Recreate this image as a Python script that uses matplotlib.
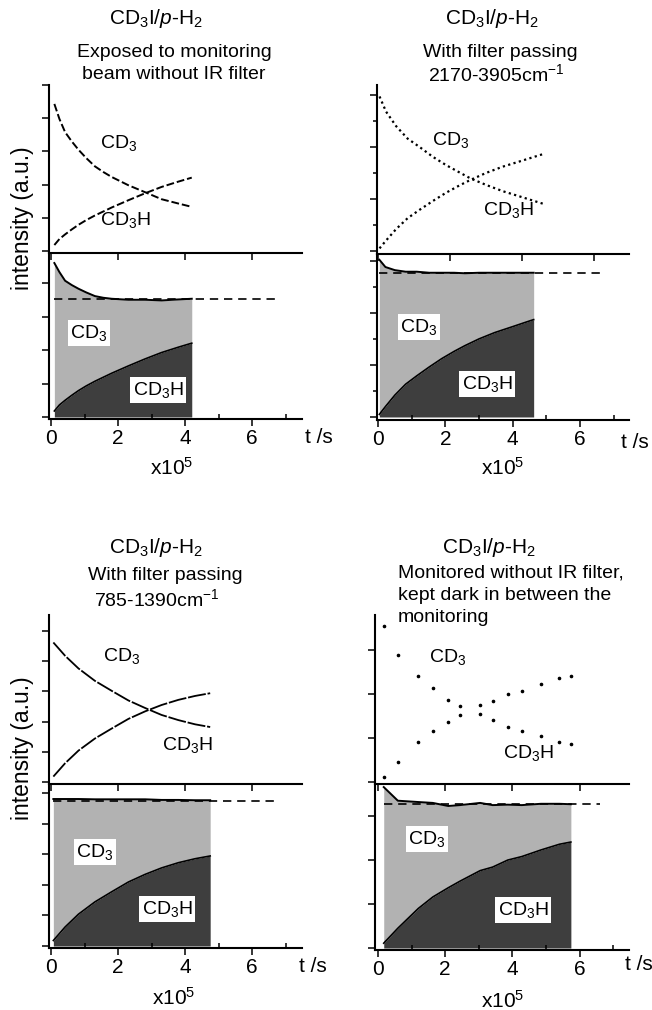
import matplotlib
matplotlib.use('Agg')
import matplotlib.pyplot as plt
from matplotlib.ticker import MultipleLocator

plt.rcParams['font.family'] = ['Liberation Sans', 'DejaVu Sans']
plt.rcParams['mathtext.fontset'] = 'custom'
plt.rcParams['mathtext.rm'] = 'Liberation Sans'
plt.rcParams['mathtext.it'] = 'Liberation Sans:italic'
plt.rcParams['mathtext.bf'] = 'Liberation Sans:bold'

# ---------------- data (time in units of 1e5 s, intensity a.u.) ----------------
t_A = [0.10, 0.25, 0.42, 0.62, 0.82, 1.05, 1.31, 1.56, 1.81, 2.31, 2.81, 3.30, 3.80, 4.20]
cd3_A = [4.43, 3.98, 3.58, 3.30, 3.05, 2.80, 2.55, 2.38, 2.23, 1.98, 1.77, 1.56, 1.43, 1.33]
cd3h_A = [0.18, 0.36, 0.50, 0.65, 0.79, 0.93, 1.07, 1.19, 1.31, 1.53, 1.74, 1.93, 2.09, 2.21]

t_B = [0.04, 0.22, 0.50, 0.82, 1.15, 1.52, 1.89, 2.26, 2.58, 3.00, 3.46, 4.02, 4.34, 4.62]
cd3_B = [2.97, 2.68, 2.40, 2.16, 2.00, 1.81, 1.65, 1.51, 1.39, 1.27, 1.15, 1.03, 0.96, 0.90]
cd3h_B = [0.05, 0.20, 0.42, 0.63, 0.79, 0.96, 1.12, 1.26, 1.37, 1.50, 1.62, 1.74, 1.81, 1.87]

t_C = [0.07, 0.42, 0.82, 1.31, 1.81, 2.31, 2.81, 3.30, 3.80, 4.30, 4.75]
cd3_C = [4.62, 4.18, 3.76, 3.35, 3.02, 2.70, 2.45, 2.22, 2.05, 1.91, 1.82]
cd3h_C = [0.18, 0.62, 1.04, 1.44, 1.77, 2.09, 2.34, 2.55, 2.72, 2.85, 2.94]

t_D = [0.17, 0.59, 1.20, 1.63, 2.09, 2.44, 3.04, 3.41, 3.86, 4.28, 4.85, 5.40, 5.74]
cd3_D = [3.55, 2.90, 2.42, 2.14, 1.86, 1.73, 1.54, 1.41, 1.26, 1.17, 1.05, 0.92, 0.86]
cd3h_D = [0.11, 0.45, 0.90, 1.16, 1.37, 1.52, 1.76, 1.84, 2.00, 2.08, 2.23, 2.36, 2.41]

plateau = [3.53, 2.77, 4.72, 3.27]
dash_end = [6.75, 6.60, 6.75, 6.60]

titles_A = ['CD$_3$I/$p$-H$_2$', 'Exposed to monitoring', 'beam without IR filter']
titles_B = ['CD$_3$I/$p$-H$_2$', 'With filter passing', '2170-3905cm$^{\\mathrm{-}1}$']
titles_C = ['CD$_3$I/$p$-H$_2$', 'With filter passing', '785-1390cm$^{\\mathrm{-}1}$']
titles_D = ['CD$_3$I/$p$-H$_2$', 'Monitored without IR filter,', 'kept dark in between the', 'monitoring']
xtick_vals = [0, 2, 4, 6]

# ---------------- layout ----------------
W, H = 652, 1010
fig = plt.figure(figsize=(W / 100, H / 100), dpi=100)
LIGHT = '#b2b2b2'
DARK = '#3e3e3e'
FS_TICK = 15
FS_LAB = 14
FS_TITLE = 14
FS_HEAD = 15


def rect(l, t, r, b):
    return [l / W, 1 - b / H, (r - l) / W, (b - t) / H]


def ftext(x, y, s, **kw):
    fig.text(x / W, 1 - y / H, s, **kw)


def style(ax, xlim, ylim, ymaj, ymin=None, xlabels=False, xminor=False):
    ax.set_xlim(xlim)
    ax.set_ylim(ylim)
    ax.patch.set_alpha(0)
    for s in ['top', 'right']:
        ax.spines[s].set_visible(False)
    for s in ['left', 'bottom']:
        ax.spines[s].set_linewidth(1.5)
    ax.yaxis.set_major_locator(MultipleLocator(ymaj))
    if ymin:
        ax.yaxis.set_minor_locator(MultipleLocator(ymin))
        ax.tick_params(axis='y', which='minor', direction='out', length=2.8, width=1.1)
    ax.tick_params(axis='y', which='major', direction='out', length=5, width=1.1, labelleft=False)
    ax.set_xticks(xtick_vals)
    if xlabels:
        ax.set_xticklabels([str(v) for v in xtick_vals], fontsize=FS_TICK)
        ax.tick_params(axis='x', which='major', direction='out', length=5, width=1.1, pad=2)
    else:
        ax.tick_params(axis='x', which='major', direction='out', length=5, width=1.1, labelbottom=False)
    if xminor:
        ax.xaxis.set_minor_locator(MultipleLocator(1))
        ax.tick_params(axis='x', which='minor', direction='in', length=3.5, width=1.1)


def panel(t, cd3, cd3h, plat, dend, up_rect, lo_rect, up_xlim, lo_xlim, up_ylim, lo_ylim,
          ymaj, ymin, upper_kw):
    tot = [a + b for a, b in zip(cd3, cd3h)]
    lo = fig.add_axes(rect(*lo_rect))
    lo.fill_between(t, 0, cd3h, color=DARK, lw=0)
    lo.fill_between(t, cd3h, tot, color=LIGHT, lw=0)
    lo.plot(t, cd3h, color='black', lw=1.2)
    lo.plot(t, tot, color='black', lw=1.4)
    lo.plot([t[0], dend], [plat, plat], color='black', lw=1.2, dashes=(5, 3.5))
    style(lo, lo_xlim, lo_ylim, ymaj, ymin, xlabels=True, xminor=True)

    up = fig.add_axes(rect(*up_rect))
    up.plot(t, cd3, color='black', **upper_kw)
    up.plot(t, cd3h, color='black', **upper_kw)
    style(up, up_xlim, up_ylim, ymaj, ymin, xlabels=False)
    return up, lo


# Panel A (top-left)
panel(t_A, cd3_A, cd3h_A, plateau[0], dash_end[0],
      (49, 85, 302, 253), (49, 253, 302, 419),
      (-0.06, 7.49), (-0.06, 7.49), (-0.06, 5.0), (-0.06, 4.91), 1, None,
      dict(lw=1.4, dashes=(4, 1.5)))
# Panel B (top-right)
panel(t_B, cd3_B, cd3h_B, plateau[1], dash_end[1],
      (377, 85, 629, 254), (377, 254, 629, 420),
      (-0.03, 6.97), (-0.03, 7.45), (-0.058, 3.19), (-0.058, 3.13), 1, 0.5,
      dict(lw=1.6, dashes=(1, 1.5)))
# Panel C (bottom-left)
panel(t_C, cd3_C, cd3h_C, plateau[2], dash_end[2],
      (49, 615, 302, 784), (49, 784, 302, 948),
      (-0.06, 7.49), (-0.06, 7.49), (-0.066, 5.53), (-0.065, 5.29), 1, None,
      dict(lw=1.3, dashes=(10, 1)))
# Panel D (bottom-right)
panel(t_D, cd3_D, cd3h_D, plateau[3], dash_end[3],
      (375, 615, 629, 784), (375, 784, 629, 950),
      (-0.09, 7.47), (-0.09, 7.47), (-0.045, 3.8), (-0.045, 3.73), 1, None,
      dict(lw=0, marker='o', ms=1.6, linestyle='none'))

# ---------------- titles ----------------
ftext(156, 24, titles_A[0], ha='center', va='baseline', fontsize=FS_HEAD)
ftext(174, 57, titles_A[1], ha='center', va='baseline', fontsize=FS_TITLE)
ftext(174, 79, titles_A[2], ha='center', va='baseline', fontsize=FS_TITLE)

ftext(492, 24, titles_B[0], ha='center', va='baseline', fontsize=FS_HEAD)
ftext(500, 57, titles_B[1], ha='center', va='baseline', fontsize=FS_TITLE)
ftext(496, 81, titles_B[2], ha='center', va='baseline', fontsize=FS_TITLE)

ftext(156, 553, titles_C[0], ha='center', va='baseline', fontsize=FS_HEAD)
ftext(165, 580, titles_C[1], ha='center', va='baseline', fontsize=FS_TITLE)
ftext(157, 606, titles_C[2], ha='center', va='baseline', fontsize=FS_TITLE)

ftext(489, 553, titles_D[0], ha='center', va='baseline', fontsize=FS_HEAD)
ftext(398, 578, titles_D[1], ha='left', va='baseline', fontsize=FS_TITLE)
ftext(398, 600, titles_D[2], ha='left', va='baseline', fontsize=FS_TITLE)
ftext(398, 622, titles_D[3], ha='left', va='baseline', fontsize=FS_TITLE)

# ---------------- curve labels ----------------
up_labels = [((119, 143), (125, 220)), ((451, 140), (508, 210)),
             ((122, 656), (187, 745)), ((448, 657), (528, 753))]
lo_labels = [((89, 333), (158, 390)), ((419, 327), (487, 384)),
             ((95, 852), (167, 909)), ((427, 839), (523, 910))]
for (p3, p3h) in up_labels:
    ftext(*p3, 'CD$_3$', ha='center', va='center', fontsize=FS_LAB)
    ftext(*p3h, 'CD$_3$H', ha='center', va='center', fontsize=FS_LAB)
box = dict(facecolor='white', edgecolor='none', pad=2.0)
for (p3, p3h) in lo_labels:
    ftext(*p3, 'CD$_3$', ha='center', va='center', fontsize=FS_LAB, bbox=box)
    ftext(*p3h, 'CD$_3$H', ha='center', va='center', fontsize=FS_LAB, bbox=box)

# ---------------- axis labels ----------------
ftext(22, 218, 'intensity (a.u.)', rotation=90, ha='center', va='center', fontsize=16.5)
ftext(22, 748, 'intensity (a.u.)', rotation=90, ha='center', va='center', fontsize=16.5)

for (x, y) in [(305, 438), (621, 443), (299, 966), (625, 964)]:
    ftext(x, y, 't /s', ha='left', va='center', fontsize=FS_TICK)
for (x, y) in [(172, 468), (503, 468), (174, 998), (503, 1001)]:
    ftext(x, y, 'x10$^5$', ha='center', va='center', fontsize=FS_TICK)

fig.savefig('out.png', dpi=100)
